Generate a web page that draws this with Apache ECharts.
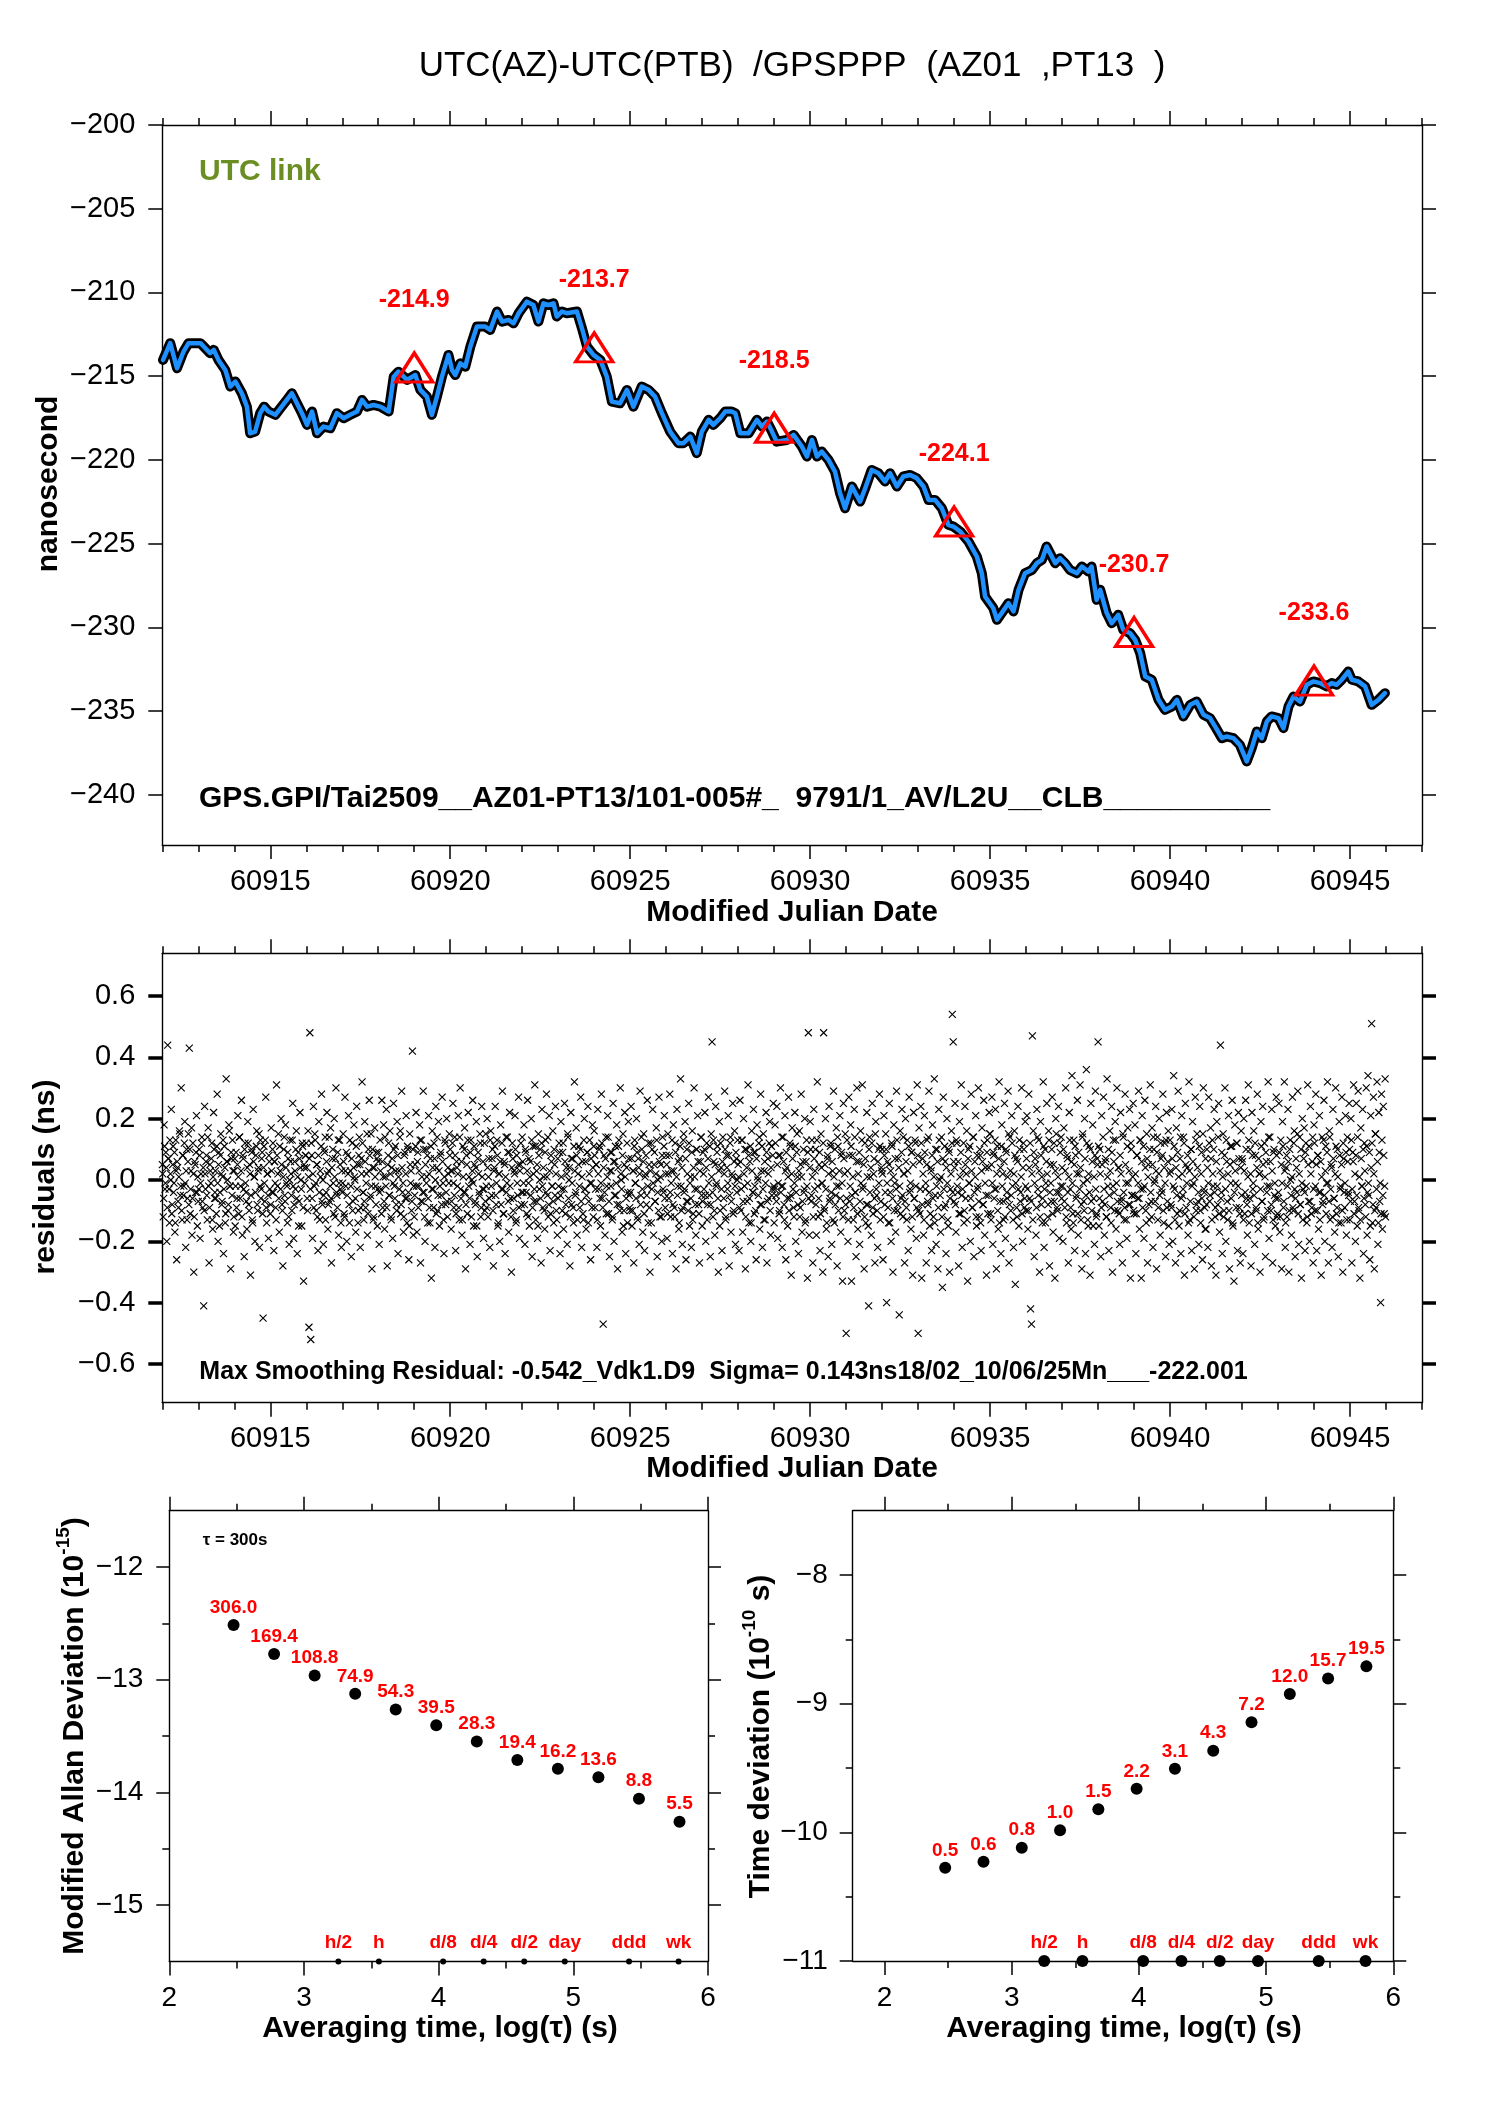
<!DOCTYPE html>
<html><head><meta charset="utf-8">
<script src="https://cdn.jsdelivr.net/npm/echarts@6/dist/echarts.min.js"></script>
<style>html,body{margin:0;padding:0;background:#fff}#c{width:1488px;height:2105px}</style>
</head><body><div id="c"></div>
<script>
const FONT = '"Liberation Sans", Arial, Helvetica, sans-serif';
const titleText = 'UTC(AZ)-UTC(PTB)  /GPSPPP  (AZ01  ,PT13  )';
const linkText = 'UTC link';
const infoText = 'GPS.GPI/Tai2509__AZ01-PT13/101-005#_  9791/1_AV/L2U__CLB__________';
const residText = 'Max Smoothing Residual: -0.542_Vdk1.D9  Sigma= 0.143ns18/02_10/06/25Mn___-222.001';

// ---- top panel: smoothed UTC link (ns) ----
const smoothMjd = [60912.02,60912.22,60912.41,60912.59,60912.73,60913.06,60913.15,60913.33,60913.43,60913.56,60913.75,60913.89,60914.03,60914.21,60914.35,60914.44,60914.58,60914.72,60914.83,60914.95,60915.14,60915.28,60915.46,60915.6,60915.74,60915.88,60916.02,60916.16,60916.3,60916.48,60916.67,60916.85,60917.04,60917.22,60917.41,60917.55,60917.69,60917.87,60918.06,60918.29,60918.43,60918.56,60918.8,60919.03,60919.17,60919.35,60919.49,60919.63,60919.77,60919.95,60920.05,60920.14,60920.28,60920.42,60920.56,60920.74,60920.97,60921.11,60921.3,60921.44,60921.62,60921.76,60921.9,60922.13,60922.31,60922.45,60922.59,60922.73,60922.87,60922.96,60923.1,60923.24,60923.52,60923.66,60923.8,60923.98,60924.17,60924.35,60924.49,60924.72,60924.91,60925.09,60925.32,60925.51,60925.69,60925.88,60926.11,60926.34,60926.48,60926.67,60926.85,60926.99,60927.18,60927.31,60927.5,60927.64,60927.82,60927.92,60928.06,60928.29,60928.52,60928.66,60928.8,60928.94,60929.07,60929.35,60929.54,60929.77,60929.91,60930.05,60930.19,60930.32,60930.51,60930.69,60930.83,60930.97,60931.16,60931.39,60931.53,60931.71,60931.9,60932.08,60932.22,60932.41,60932.59,60932.78,60932.96,60933.15,60933.29,60933.47,60933.66,60933.84,60933.98,60934.17,60934.4,60934.63,60934.77,60934.86,60935.09,60935.19,60935.32,60935.51,60935.65,60935.79,60935.97,60936.16,60936.3,60936.44,60936.57,60936.81,60936.94,60937.08,60937.22,60937.41,60937.55,60937.73,60937.82,60937.96,60938.06,60938.24,60938.38,60938.56,60938.7,60938.89,60939.03,60939.17,60939.31,60939.49,60939.68,60939.86,60940.05,60940.19,60940.37,60940.56,60940.74,60940.93,60941.11,60941.25,60941.44,60941.57,60941.76,60941.94,60942.13,60942.27,60942.41,60942.55,60942.69,60942.82,60943.01,60943.15,60943.29,60943.43,60943.61,60943.8,60943.98,60944.17,60944.35,60944.49,60944.63,60944.77,60944.95,60945.05,60945.23,60945.42,60945.6,60945.79,60945.97];
const smoothNs = [-214.03,-213.03,-214.53,-213.53,-213.03,-213.03,-213.23,-213.63,-213.43,-214.03,-214.63,-215.62,-215.32,-216.02,-216.82,-218.41,-218.31,-217.21,-216.82,-217.11,-217.31,-216.92,-216.42,-216.02,-216.62,-217.21,-217.91,-217.11,-218.41,-218.01,-218.11,-217.21,-217.51,-217.31,-217.11,-216.42,-216.82,-216.72,-216.82,-217.11,-215.03,-214.73,-215.22,-214.93,-215.82,-216.22,-217.31,-216.22,-215.03,-213.73,-214.63,-214.93,-214.23,-214.43,-213.23,-212.04,-212.04,-212.24,-211.14,-211.74,-211.64,-211.84,-211.24,-210.55,-210.75,-211.74,-210.65,-210.75,-210.65,-211.44,-211.14,-211.24,-211.14,-212.14,-213.23,-213.73,-214.03,-215.03,-216.52,-216.62,-215.82,-216.82,-215.62,-215.82,-216.22,-217.21,-218.31,-219.0,-219.0,-218.61,-219.6,-218.31,-217.61,-217.91,-217.51,-217.11,-217.11,-217.21,-218.41,-218.41,-217.61,-218.01,-217.71,-218.31,-218.91,-218.81,-218.51,-219.2,-219.8,-218.81,-219.8,-219.5,-220.0,-220.7,-221.99,-222.89,-221.59,-222.49,-221.69,-220.6,-220.8,-221.29,-220.8,-221.59,-220.99,-220.9,-221.09,-221.59,-222.39,-222.39,-222.89,-223.88,-223.98,-224.28,-224.88,-225.77,-226.77,-228.16,-228.86,-229.55,-229.15,-228.56,-229.05,-227.76,-226.77,-226.57,-226.17,-225.97,-225.17,-226.17,-225.87,-226.17,-226.57,-226.77,-226.37,-226.67,-226.37,-228.36,-227.76,-229.15,-229.75,-229.25,-230.15,-230.35,-230.75,-231.54,-232.94,-233.13,-234.33,-234.93,-234.73,-234.33,-235.32,-234.63,-234.43,-235.22,-235.42,-235.92,-236.62,-236.52,-236.62,-237.02,-238.01,-237.21,-236.22,-236.62,-235.62,-235.32,-235.42,-236.02,-234.73,-234.13,-234.43,-233.43,-233.23,-233.33,-233.53,-233.33,-233.43,-233.13,-232.64,-233.13,-233.23,-233.53,-234.63,-234.33,-233.93];
const triMjd = [60919, 60924, 60929, 60934, 60939, 60944];
const triNs = [-214.9, -213.7, -218.5, -224.1, -230.7, -233.6];
const mjdMajor = [60915, 60920, 60925, 60930, 60935, 60940, 60945];
const mjdMinor = [60912,60913,60914,60916,60917,60918,60919,60921,60922,60923,60924,60926,60927,60928,60929,60931,60932,60933,60934,60936,60937,60938,60939,60941,60942,60943,60944,60946,60947];
const nsTicks = [-240, -235, -230, -225, -220, -215, -210, -205, -200];

// ---- middle panel: residuals (hundredths of ns), one row per day ----
const resStartMjd = 60912.0;
const resStepDay = 0.025;
const residualsCns = [
5,-12,18,-3,9,-20,44,7,-14,2,23,-8,11,-1,-17,13,-26,4,-9,16,-5,30,-13,8,-2,19,-22,10,-6,15,43,-11,3,-18,12,-30,6,-4,21,-15,
-7,10,-19,2,14,-9,-41,24,-3,8,-13,17,-27,5,-1,12,-16,22,-6,3,-11,28,-20,9,-4,15,-8,1,-24,11,-14,33,6,-10,18,-2,-29,7,13,-17,
3,-15,9,-6,21,-11,14,-2,26,-18,7,-25,12,-4,-16,19,-8,5,-31,10,-13,23,1,-20,8,16,-10,4,-22,13,-3,9,-45,11,-7,27,-14,2,-19,6,
-11,17,-4,12,-23,6,-9,31,-2,15,-17,3,20,-8,-28,10,-5,18,-1,-14,7,-21,13,2,-10,25,-19,6,-3,16,-24,9,-7,22,0,-15,11,-33,4,8,
12,-6,16,-48,48,-52,8,-19,24,-2,13,-10,5,-23,19,-13,1,28,-8,-21,10,14,-4,22,-16,3,-7,17,-27,7,-1,20,-12,30,-5,9,-18,13,-3,-22,
-4,15,-11,27,-2,-20,8,21,-14,3,-25,12,-7,18,0,-17,24,5,-10,14,-22,7,32,-4,-13,19,-9,2,-18,10,26,-6,15,-29,4,-12,17,-2,9,-15,
6,-21,13,-3,26,-9,18,-16,1,23,-28,8,-5,16,-12,4,-19,25,-2,11,-8,19,-24,3,14,-11,29,-4,-17,8,-6,21,-14,10,-26,15,-1,-10,42,-18,
-12,5,22,-17,9,-2,18,-27,13,-7,29,-4,-20,10,1,-14,21,-9,7,-32,16,-3,12,-22,24,4,-10,19,-15,8,-5,27,-1,-24,13,-8,20,-12,2,15,
10,-16,3,25,-9,14,-23,6,-2,21,-13,30,-6,-18,11,-4,17,-29,8,-11,22,1,-21,13,0,26,-15,5,-8,19,-25,9,-4,15,-12,24,-3,-19,12,-7,
-2,20,-12,7,-22,16,-5,10,-28,4,24,-8,13,-15,2,-20,18,-3,29,-11,6,-24,14,-1,9,-17,22,-6,-30,12,-10,3,21,-14,8,-5,27,-19,5,-8,
14,-4,18,-21,9,-11,26,-1,-15,6,20,-25,11,-7,31,-13,3,-19,15,-3,10,-27,23,-9,1,-16,13,28,-5,-12,21,-23,8,-2,16,-14,5,24,-10,-18,
-6,12,-24,19,-3,9,-16,25,-11,4,-21,14,0,-28,22,-8,7,-14,32,-5,17,-18,2,11,-9,27,-22,6,-13,20,-3,-16,9,24,-7,13,-26,-1,18,-12,
16,-9,5,-22,23,-3,11,-15,28,-6,-47,8,-18,14,-2,21,-11,-25,9,3,-13,25,-20,6,-5,18,-29,11,-8,30,0,-17,15,-10,22,-24,4,-14,19,-5,
-10,24,-15,3,-27,13,-1,20,-12,7,-21,29,-5,10,-17,15,-23,2,-8,26,-14,5,-30,12,-3,23,-18,9,-7,17,-25,0,27,-12,5,-20,14,-4,21,-9,
8,-19,15,-6,28,-12,3,-24,18,-9,12,-29,23,-2,-16,7,33,-10,-21,13,-4,19,-26,10,-7,25,-15,1,-22,16,-11,30,-3,-18,10,21,-8,-27,6,14,
-15,9,-3,22,-20,12,-8,27,-5,-25,15,45,-12,6,-18,24,-1,11,-30,19,-10,4,-23,14,-6,29,-13,8,-3,21,-28,12,-17,2,25,-10,16,-21,7,0,
5,-23,26,-10,13,-17,20,-2,-29,10,-7,31,-14,6,-20,16,-4,23,-11,9,-26,18,0,12,-16,28,-8,-22,15,3,-13,22,-27,7,-6,19,-18,11,-3,25,
-14,18,-5,24,-19,8,-10,30,-2,-22,14,-8,21,-26,4,-15,27,-6,11,-31,17,-3,-12,22,-20,9,1,-24,16,-9,28,-17,6,-4,20,-13,13,-32,48,-18,
19,-7,13,-27,23,-3,10,-18,32,-12,5,-23,15,-1,-30,48,-10,20,-16,7,-25,24,-6,12,-21,3,29,-14,-8,17,-28,11,-2,21,-17,9,-33,25,-10,15,
-50,13,-20,27,-7,18,-33,8,-13,23,-4,-25,30,-16,6,-21,16,-10,31,-2,-29,12,-14,22,-8,-41,14,1,-18,25,-11,7,-27,19,-5,-22,10,28,-13,4,
10,-26,21,-8,15,-40,6,-14,25,-4,-20,11,-30,18,-1,-17,29,-10,7,-44,16,-6,23,-12,2,-27,20,-9,13,-23,27,-3,-16,9,-31,22,-6,12,-19,31,
-50,17,-11,24,-32,7,-18,21,-3,-27,13,-8,29,-15,4,-23,18,-12,33,-5,-21,10,-29,23,0,-17,14,-35,27,-9,6,-24,20,-13,10,-30,-3,16,54,45,
-7,25,-17,12,-4,-28,19,-11,31,-22,3,-14,24,-6,16,-33,10,-1,-20,28,-9,14,-25,6,21,-15,-3,30,-12,8,-23,17,-8,26,-18,4,-31,13,-5,22,
15,-13,27,-21,8,-3,23,-29,11,-16,32,-7,-24,18,2,-13,25,-19,9,-6,29,-27,14,-10,21,-2,-22,16,-34,7,-12,24,-15,10,-4,30,-20,12,-9,19,
-10,21,-16,28,-6,-42,-47,47,16,-25,7,-18,23,-3,13,-30,19,-8,-14,32,-22,10,-1,25,-12,16,-28,5,-7,27,-17,12,-32,20,-4,-10,24,-19,9,14,
4,-20,17,-9,30,-14,7,-27,22,-3,-16,34,-11,13,-23,8,-5,26,-18,2,31,-13,-29,15,-7,20,-24,36,0,-15,11,-31,25,-10,18,-6,-21,29,-12,7,
45,-15,10,-25,21,-7,27,-18,6,-12,33,-2,-23,16,-9,24,-30,13,-4,19,-16,30,-10,4,-21,22,-7,-27,14,-13,28,-1,-19,17,-8,23,-32,10,-5,25,
-11,18,-24,8,-6,29,-16,13,-32,21,-3,-19,26,-10,15,-27,5,-13,31,-7,17,-22,10,0,24,-29,14,-9,20,-18,7,-4,28,-14,12,-25,22,-7,16,-21,
13,-8,23,-20,34,-3,-27,17,-11,29,-15,7,-24,21,-5,14,-31,25,-9,4,-18,32,-13,10,-23,19,-1,-29,27,-10,15,-7,-21,24,-14,9,-26,30,-4,-16,
-16,10,-22,27,-7,17,-28,13,-2,23,-12,-31,19,-8,25,-17,44,-4,-24,15,-10,30,-20,6,-13,21,-29,11,-6,26,-15,-33,18,-1,12,-23,22,-9,-27,16,
7,-24,20,-11,26,-6,-18,31,-14,10,-28,22,-3,16,-21,8,-10,28,-16,2,-30,19,-7,24,-13,12,-25,6,-2,32,-19,14,-10,23,-27,9,-5,-15,27,-12,
-6,25,-17,13,-29,19,-9,32,-22,4,-12,23,-30,10,0,-18,27,-10,16,-25,7,-4,29,-21,14,-8,-32,20,-3,17,-23,12,-14,31,-7,-20,24,-11,6,-27,
18,-10,28,-23,8,-16,21,-4,-31,14,-7,26,-20,11,-1,32,-27,16,-13,5,-22,23,-6,-17,30,-11,10,-25,19,-3,-14,27,-30,7,-9,21,-18,14,-4,25,
-13,20,-27,9,31,-7,-20,25,-15,29,-10,-32,17,-2,23,-24,12,-8,30,-18,34,-5,-26,21,51,-14,27,-29,15,-9,32,-21,22,-7,-40,28,-16,24,-11,33
];
// second interleaved sample set (offset half a step), hundredths of ns
const residualsCnsB = [
2,-6,11,-1,4,-9,7,-3,13,0,-11,5,-4,9,-14,3,6,-7,1,15,-2,-10,8,-5,12,-1,3,-13,6,-8,10,-3,17,-6,2,-12,5,9,-4,1,
-3,8,-1,12,-7,4,-10,2,6,-5,14,-2,-9,3,7,-13,1,10,-4,-6,11,-1,5,-15,8,2,-7,13,-3,4,-11,6,0,-8,16,-2,9,-5,3,-12,
7,-2,-9,5,1,14,-6,3,-12,8,-3,10,-1,-7,4,12,-10,2,-5,9,-14,6,1,-4,11,-8,3,15,-2,-6,7,-11,4,-1,13,-9,2,-5,8,-3,
-8,3,10,-4,6,-1,-13,8,2,-6,11,-3,5,-10,1,14,-7,4,-2,9,-12,0,6,-5,13,-2,-8,3,10,-6,1,-15,7,4,-3,12,-9,5,-1,8,
4,-10,1,7,-3,12,-6,2,-9,15,-1,5,-12,8,-4,3,11,-7,0,-5,9,-13,6,2,-8,14,-2,-6,4,10,-11,1,7,-4,-9,13,-1,5,-14,3,
-1,6,-12,3,9,-5,2,-8,13,-2,7,-10,4,1,-6,11,-3,-14,8,5,-9,2,12,-4,-7,6,-1,15,-11,3,8,-5,-2,10,-13,4,1,-8,7,-3,
9,-4,3,-11,6,1,-7,14,-2,-9,5,12,-5,2,-13,7,-1,10,-6,3,-10,8,1,-3,16,-8,4,-1,-12,9,2,-6,11,-4,-15,5,3,-7,10,-2,
-5,11,-2,6,-9,3,13,-7,1,-4,10,-12,5,-1,8,-6,2,-14,11,-3,4,-9,7,0,-11,14,-5,3,-2,9,-8,6,-13,1,12,-4,-7,4,-1,8,
3,-7,12,-1,-5,8,-11,4,2,-9,14,-3,6,-13,1,10,-4,-8,5,13,-2,-6,9,-12,3,-1,11,-7,4,-15,7,2,-5,12,-9,1,6,-3,-10,15,
-9,4,1,-6,13,-2,7,-10,3,11,-5,-1,8,-14,2,6,-8,12,-3,-11,5,1,-4,14,-7,9,-2,-12,4,7,-6,2,10,-13,-1,5,-9,3,12,-4,
6,-1,-8,10,-4,3,-12,7,1,-5,13,-9,2,-3,11,-7,5,-15,8,0,-6,12,-2,4,-10,9,-4,1,14,-8,3,-11,6,-2,-7,10,-5,2,-13,7,
-2,9,-5,1,-10,12,-3,6,-8,2,15,-6,4,-12,7,-1,-9,11,3,-4,8,-13,5,-2,10,-7,1,-11,13,-3,6,-5,9,-14,2,-1,7,-9,4,11,
8,-3,5,-13,2,10,-6,-1,12,-9,4,-4,7,-11,1,14,-7,3,-2,9,-12,6,-5,11,-1,-8,4,13,-10,2,-3,8,-15,5,1,-6,12,-4,7,-9,
-4,7,-10,3,11,-1,-6,9,-13,4,2,-8,14,-3,6,-11,1,8,-5,-2,12,-9,3,-14,10,-1,5,-7,2,13,-4,-10,6,1,-12,8,-3,11,-6,2,
5,-11,2,8,-4,-1,13,-8,3,-12,9,1,-5,6,-14,11,-2,4,-9,15,-3,7,-7,2,-10,12,-1,-6,9,-13,4,1,-8,10,-3,6,-11,3,14,-5,
-7,2,10,-5,4,-13,7,-1,11,-8,1,-4,13,-10,5,-2,9,-6,3,-15,12,-3,6,-9,2,10,-12,4,-1,8,-5,14,-7,1,-11,6,-2,9,-4,13,
1,-9,6,-3,13,-7,2,10,-12,4,-1,8,-6,11,-14,3,-4,9,-2,-10,7,1,-5,14,-8,3,11,-3,-13,6,-1,9,-7,2,12,-10,4,-5,8,-2,
-3,12,-7,5,-1,-11,8,-4,14,-2,6,-13,3,9,-6,1,-10,12,-5,2,7,-9,-1,11,-4,15,-8,3,-12,5,1,-7,10,-3,-14,6,-2,9,-6,4,
10,-5,1,-12,7,3,-8,13,-2,-6,9,-11,4,-1,12,-9,5,-3,-14,8,2,-7,11,-4,6,-13,1,10,-5,-2,14,-10,3,-6,8,-1,-12,7,2,-8,
-6,3,-13,8,-2,11,-5,1,-9,14,-4,6,-11,2,9,-7,-1,13,-3,5,-12,7,-8,1,-15,10,-4,4,12,-9,2,-6,15,-3,-10,6,-1,11,-7,3,
2,-12,8,-4,10,-1,-9,5,-14,3,12,-6,1,-10,7,-3,13,-8,4,-2,-11,9,-5,14,2,-7,6,-13,3,11,-4,-1,9,-12,5,-6,13,-2,-9,8,
-10,6,-3,12,-8,2,-13,9,-1,5,-7,14,-4,-11,3,8,-6,1,-14,10,-2,6,-9,13,-5,1,-12,7,-3,11,-8,4,-1,-15,9,-6,2,12,-4,6,
4,-8,13,-2,6,-11,1,9,-5,-3,12,-10,5,2,-13,7,-1,11,-6,3,-9,14,-4,1,-12,8,-2,-7,10,-14,3,6,-8,12,-1,-5,9,-11,4,15,
-11,5,-1,9,-6,13,-3,2,-10,7,-14,4,11,-2,-7,6,-12,10,-4,1,15,-8,3,-5,12,-13,2,8,-1,-9,6,-3,13,-7,1,-11,4,10,-6,-2,
7,-3,-10,4,12,-7,2,-13,9,-1,5,-9,14,-5,3,-12,8,1,-6,11,-3,-14,6,2,-8,13,-4,-1,10,-11,5,-7,3,15,-9,1,-4,12,-2,-6,
-2,10,-7,3,-12,8,-4,1,13,-9,6,-1,-14,5,11,-6,2,-11,9,-3,4,-8,14,-1,-10,7,-5,12,-13,2,-4,10,-7,6,-15,1,8,-3,-11,5,
11,-6,2,-9,5,14,-3,-8,7,-12,1,10,-5,3,-14,9,-2,6,-10,13,-1,-7,4,-11,8,2,-6,15,-4,-9,5,-13,11,-1,3,-8,12,-5,1,-10,
-5,2,-11,8,-1,-6,13,-3,6,-9,11,-2,4,-14,7,1,-8,10,-4,-12,5,14,-1,-7,3,9,-13,2,-5,12,-3,8,-10,4,-1,13,-9,6,-15,2,
3,-9,7,-2,11,-13,4,-5,9,1,-10,14,-6,2,-3,12,-11,5,-1,8,-14,3,-7,10,-2,6,-12,1,13,-8,4,-4,11,-10,2,-6,15,-3,-9,7,
-8,4,-1,12,-5,7,-13,2,10,-4,-9,6,-2,14,-11,3,-6,9,1,-12,8,-3,13,-7,2,-10,5,-1,11,-14,6,-4,3,-9,12,-2,7,-11,4,-5,
6,-13,3,-4,10,-8,1,13,-6,2,-11,8,-1,-5,12,-9,4,-14,7,2,-3,11,-7,5,-12,1,9,-4,-10,14,-2,6,-8,3,-13,10,-1,-6,8,-11,
-4,9,-12,5,-1,11,-7,3,-14,8,-2,6,-10,13,-5,1,-9,12,-3,-6,4,15,-11,2,-8,10,-1,-13,7,-4,9,-2,-12,5,11,-7,2,-9,14,-3,
12,-2,5,-10,8,-4,-13,6,1,-8,13,-5,3,-11,9,-1,-7,14,-3,4,-12,7,-6,2,11,-9,1,-14,8,-2,5,-10,12,-4,-1,9,-13,6,-5,10,
-7,13,-3,6,-11,2,8,-5,14,-9,1,-13,7,-2,10,-6,3,-12,11,-4,-1,9,-15,4,12,-8,2,-10,15,-3,6,-14,9,-1,-11,13,-5,8,-2,-12
];
const resTicks = [-0.6, -0.4, -0.2, 0, 0.2, 0.4, 0.6];

// ---- bottom panels ----
const tauS = [300, 600, 1200, 2400, 4800, 9600, 19200, 38400, 76800, 153600, 307200, 614400];
const mdev = [306.0, 169.4, 108.8, 74.9, 54.3, 39.5, 28.3, 19.4, 16.2, 13.6, 8.8, 5.5];        // x 1e-15
const mdevLabels = ['306.0','169.4','108.8','74.9','54.3','39.5','28.3','19.4','16.2','13.6','8.8','5.5'];
const tdev = [0.53, 0.59, 0.76, 1.04, 1.51, 2.18, 3.12, 4.31, 7.16, 11.9, 15.7, 19.5];          // x 1e-10 s
const tdevLabels = ['0.5','0.6','0.8','1.0','1.5','2.2','3.1','4.3','7.2','12.0','15.7','19.5'];
const markTau = [1800, 3600, 10800, 21600, 43200, 86400, 259200, 604800];
const markNames = ['h/2','h','d/8','d/4','d/2','day','ddd','wk'];
const logMajor = [2, 3, 4, 5, 6];
const logMinor = [2.5, 3.5, 4.5, 5.5];
const mdevMajor = [-15, -14, -13, -12];
const mdevMinor = [-14.5, -13.5, -12.5];
const tdevMajor = [-11, -10, -9, -8];
const tdevMinor = [-10.5, -9.5, -8.5];

const minus = v => String(v).replace('-', '\u2212');
const grids = [], xAxis = [], yAxis = [], series = [];

function axisObj(g, pos, C, ticks, len, showLabel, showLine) {
  return {
    type: 'value', gridIndex: g, position: pos, min: C.min, max: C.max,
    axisLine: {show: showLine, onZero: false, lineStyle: {color: '#000', width: 1.4}},
    axisTick: {show: ticks.length > 0, inside: false, length: len, customValues: ticks,
      lineStyle: {color: '#000', width: C.tickW || 1.5}},
    axisLabel: {show: showLabel, customValues: ticks, formatter: C.fmt, fontFamily: FONT,
      fontSize: C.fs, color: '#000', margin: C.margin},
    splitLine: {show: false}, splitArea: {show: false},
    minorTick: {show: false}, minorSplitLine: {show: false}
  };
}
function addPlot(rect, X, Y) {
  const gA = grids.length;
  grids.push(Object.assign({outerBoundsMode: 'none', show: false}, rect));
  grids.push(Object.assign({outerBoundsMode: 'none', show: false}, rect));
  const xi = xAxis.length, yi = yAxis.length;
  xAxis.push(axisObj(gA, 'bottom', X, X.major, X.len || 14, true, true));
  xAxis.push(axisObj(gA, 'top', X, X.major, X.len || 14, false, true));
  xAxis.push(axisObj(gA + 1, 'bottom', X, X.minor, 7, false, false));
  xAxis.push(axisObj(gA + 1, 'top', X, X.minor, 7, false, false));
  yAxis.push(axisObj(gA, 'left', Y, Y.major, Y.len || 14, true, true));
  yAxis.push(axisObj(gA, 'right', Y, Y.major, Y.len || 14, false, true));
  yAxis.push(axisObj(gA + 1, 'left', Y, Y.minor, 7, false, false));
  yAxis.push(axisObj(gA + 1, 'right', Y, Y.minor, 7, false, false));
  return {xi, yi};
}

const pTop = addPlot({left: 162.3, top: 125, width: 1259.7, height: 720},
  {min: 60912, max: 60947, major: mjdMajor, minor: mjdMinor, fs: 29, margin: 22, fmt: v => String(v)},
  {min: -243, max: -200, major: nsTicks, minor: [], fs: 29, margin: 27, fmt: minus});
const pMid = addPlot({left: 162.3, top: 953.3, width: 1259.7, height: 449.4},
  {min: 60912, max: 60947, major: mjdMajor, minor: mjdMinor, fs: 29, margin: 22, fmt: v => String(v)},
  {min: -0.726, max: 0.739, major: resTicks, minor: [], fs: 29, margin: 27, tickW: 3.5, fmt: v => minus(v.toFixed(1))});
const pBL = addPlot({left: 169.3, top: 1510.7, width: 538.7, height: 450.7},
  {min: 2, max: 6, major: logMajor, minor: logMinor, fs: 28, margin: 23, fmt: v => String(v)},
  {min: -15.5, max: -11.5, major: mdevMajor, minor: mdevMinor, fs: 28, margin: 26, len: 13, fmt: minus});
const pBR = addPlot({left: 852.7, top: 1510.7, width: 540.6, height: 450.3},
  {min: 1.75, max: 6, major: logMajor, minor: logMinor, fs: 28, margin: 23, fmt: v => String(v)},
  {min: -11, max: -7.5, major: tdevMajor, minor: tdevMinor, fs: 28, margin: 25, len: 13, fmt: minus});

const smoothData = smoothMjd.map((d, i) => [d, smoothNs[i]]);
series.push({type: 'line', xAxisIndex: pTop.xi, yAxisIndex: pTop.yi, data: smoothData, symbol: 'none',
  lineStyle: {color: '#000', width: 10, join: 'round', cap: 'round'}, z: 2, silent: true});
series.push({type: 'line', xAxisIndex: pTop.xi, yAxisIndex: pTop.yi, data: smoothData, symbol: 'none',
  lineStyle: {color: '#1e90ff', width: 4.5, join: 'round', cap: 'round'}, z: 3, silent: true});
const triData = triMjd.map((d, i) => [d, triNs[i]]);
series.push({type: 'scatter', xAxisIndex: pTop.xi, yAxisIndex: pTop.yi, data: triData,
  symbol: 'triangle', symbolSize: [37, 29], symbolOffset: [0, -7],
  itemStyle: {color: 'rgba(0,0,0,0)', borderColor: '#ff0000', borderWidth: 3.3, opacity: 1}, z: 4, silent: true});
series.push({type: 'scatter', xAxisIndex: pTop.xi, yAxisIndex: pTop.yi, data: triData,
  symbol: 'circle', symbolSize: 1, itemStyle: {color: 'rgba(0,0,0,0)', opacity: 1}, z: 5, silent: true,
  label: {show: true, position: 'inside', offset: [0, -74], formatter: p => p.value[1].toFixed(1),
    color: '#ff0000', fontFamily: FONT, fontWeight: 'bold', fontSize: 25}});

const resData = residualsCns.map((c, i) => [resStartMjd + i * resStepDay, c / 100])
  .concat(residualsCnsB.map((c, i) => [resStartMjd + (i + 0.5) * resStepDay, c / 100]));
series.push({type: 'scatter', xAxisIndex: pMid.xi, yAxisIndex: pMid.yi, data: resData,
  symbol: 'path://M0,0L10,10M10,0L0,10', symbolSize: 7, large: false, largeThreshold: 100000,
  itemStyle: {color: 'rgba(0,0,0,0)', borderColor: '#000', borderWidth: 1.1, opacity: 1}, silent: true});

const ptLabel = (arr, dist) => ({show: true, position: 'top', distance: dist, formatter: p => arr[p.dataIndex],
  color: '#ff0000', fontFamily: FONT, fontWeight: 'bold', fontSize: 19});
series.push({type: 'scatter', xAxisIndex: pBL.xi, yAxisIndex: pBL.yi,
  data: tauS.map((t, i) => [Math.log10(t), Math.log10(mdev[i]) - 15]),
  symbol: 'circle', symbolSize: 12, itemStyle: {color: '#000', opacity: 1}, label: ptLabel(mdevLabels, 2), silent: true});
series.push({type: 'scatter', xAxisIndex: pBL.xi, yAxisIndex: pBL.yi,
  data: markTau.map(t => [Math.log10(t), -15.5]),
  symbol: 'circle', symbolSize: 6, itemStyle: {color: '#000', opacity: 1}, label: ptLabel(markNames, 6), silent: true});
series.push({type: 'scatter', xAxisIndex: pBR.xi, yAxisIndex: pBR.yi,
  data: tauS.map((t, i) => [Math.log10(t), Math.log10(tdev[i]) - 10]),
  symbol: 'circle', symbolSize: 12, itemStyle: {color: '#000', opacity: 1}, label: ptLabel(tdevLabels, 2), silent: true});
series.push({type: 'scatter', xAxisIndex: pBR.xi, yAxisIndex: pBR.yi,
  data: markTau.map(t => [Math.log10(t), -11]),
  symbol: 'circle', symbolSize: 12, itemStyle: {color: '#000', opacity: 1}, label: ptLabel(markNames, 3), silent: true});

function txt(x, y, text, font, color, align, rot) {
  return {type: 'text', x: x, y: y, rotation: rot || 0, silent: true, z: 100,
    style: {text: text, font: font, fill: color || '#000', align: align || 'center', verticalAlign: 'middle',
      textAlign: align || 'center', textVerticalAlign: 'middle'}};
}
function richTxt(x, y, main1, sup, main2, rot) {
  const base = {fontSize: 30, fontWeight: 'bold', fontFamily: FONT, fill: '#000', lineHeight: 36, verticalAlign: 'bottom'};
  return {type: 'text', x: x, y: y, rotation: rot, silent: true, z: 100,
    style: {text: '{a|' + main1 + '}{s|' + sup + '}{a|' + main2 + '}', align: 'center', verticalAlign: 'middle',
      textAlign: 'center', textVerticalAlign: 'middle',
      rich: {a: base, s: {fontSize: 19, fontWeight: 'bold', fontFamily: FONT, fill: '#000', lineHeight: 36, verticalAlign: 'top'}}}};
}
const B30 = 'bold 30px ' + FONT;
const graphic = [
  txt(792, 66, titleText, '35px ' + FONT),
  txt(199, 172, linkText, 'bold 30px ' + FONT, '#6b8e23', 'left'),
  txt(199, 798.5, infoText, 'bold 30px ' + FONT, '#000', 'left'),
  txt(792, 912.7, 'Modified Julian Date', B30),
  txt(49, 484, 'nanosecond', B30, '#000', 'center', Math.PI / 2),
  txt(199.3, 1372.3, residText, 'bold 25px ' + FONT, '#000', 'left'),
  txt(792, 1468.5, 'Modified Julian Date', B30),
  txt(46, 1177, 'residuals (ns)', B30, '#000', 'center', Math.PI / 2),
  txt(202.7, 1540.5, '\u03c4 = 300s', 'bold 17px ' + FONT, '#000', 'left'),
  richTxt(72, 1736, 'Modified Allan Deviation (10', '-15', ')', Math.PI / 2),
  richTxt(758, 1736.5, 'Time deviation (10', '-10', ' s)', Math.PI / 2),
  txt(440, 2029, 'Averaging time, log(\u03c4) (s)', B30),
  txt(1124, 2029, 'Averaging time, log(\u03c4) (s)', B30)
];

const chart = echarts.init(document.getElementById('c'), null, {renderer: 'canvas'});
chart.setOption({animation: false, backgroundColor: '#fff', grid: grids, xAxis: xAxis, yAxis: yAxis,
  series: series, graphic: graphic});
</script></body></html>
